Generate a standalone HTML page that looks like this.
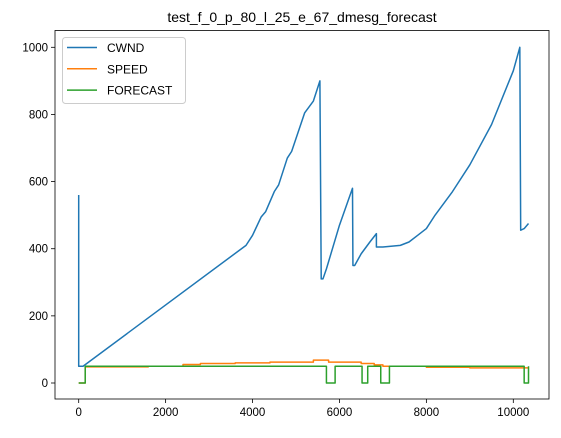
<!DOCTYPE html>
<html><head><meta charset="utf-8"><style>
body{margin:0;background:#fff;font-family:"Liberation Sans","DejaVu Sans",sans-serif}
</style></head><body>
<svg id="c" width="561" height="433" xmlns="http://www.w3.org/2000/svg"></svg>
<script>
const cwndX=[0,0,100,3850,4000,4200,4300,4500,4600,4800,4900,5200,5400,5550,5580,5620,5700,6000,6300,6310,6350,6500,6700,6850,6850,7000,7400,7600,7800,8000,8200,8600,9000,9500,10000,10150,10170,10250,10350];
const cwndY=[560,50,50,410,440,495,510,570,590,670,690,805,840,900,310,310,340,470,580,350,350,385,420,445,405,405,410,420,440,460,500,570,650,770,930,1000,455,460,475];
const speedX=[0,150,150,1600,1600,2400,2400,2800,2800,3600,3600,4400,4400,5400,5400,5750,5750,6500,6500,6800,6800,7000,7000,8000,8000,9000,9000,10350];
const speedY=[0,0,48,48,50,50,55,55,58,58,60,60,62,62,68,68,62,62,58,58,54,54,50,50,47,47,45,45];
const fcX=[0,150,150,5700,5700,5900,5900,6520,6520,6650,6650,6950,6950,7150,7150,10250,10250,10350,10350];
const fcY=[0,0,50,50,0,0,50,50,0,0,50,50,0,0,50,50,0,0,50];
const xTicks=[0,2000,4000,6000,8000,10000];
const yTicks=[0,200,400,600,800,1000];
const L=55,R=549,T=30.5,B=399;
const sx=v=>78.7+v*0.04346;
const sy=v=>383-v*0.3357;
const svg=document.getElementById('c');const NS='http://www.w3.org/2000/svg';
function mk(t,a,p){const e=document.createElementNS(NS,t);for(const k in a)e.setAttribute(k,a[k]);(p||svg).appendChild(e);return e;}
let t=mk('text',{x:(L+R)/2,y:22,'text-anchor':'middle','font-size':'14',fill:'#000'});t.textContent='test_f_0_p_80_l_25_e_67_dmesg_forecast';


xTicks.forEach(v=>{const x=sx(v);
 const l=mk('line',{x1:x,x2:x,y1:B,y2:B+4,stroke:'#000','stroke-width':0.8});
 
 
 const s=mk('text',{x:x,y:B+17,'text-anchor':'middle','font-size':'11.5'});s.textContent=v;
 
 });
yTicks.forEach(v=>{const y=sy(v);
 const l=mk('line',{x1:L-4,x2:L,y1:y,y2:y,stroke:'#000','stroke-width':0.8});
 
 
 const s=mk('text',{x:L-7,y:y+4,'text-anchor':'end','font-size':'11.5'});s.textContent=v;
 
 });
function line(X,Y,c,n){const p=mk('polyline',{points:X.map((x,i)=>sx(x)+','+sy(Y[i])).join(' '),fill:'none',stroke:c,'stroke-width':1.5,'stroke-linejoin':'round'});
 
 }
line(cwndX,cwndY,'#1f77b4','cwnd-line');
line(speedX,speedY,'#ff7f0e','speed-line');
line(fcX,fcY,'#2ca02c','forecast-line');
const f=mk('rect',{x:L,y:T,width:R-L,height:B-T,fill:'none',stroke:'#000','stroke-width':0.8});


const g=mk('g',{});


mk('rect',{x:62.5,y:37.5,width:123,height:66,rx:3,fill:'#fff','fill-opacity':0.8,stroke:'#ccc'},g);
[['CWND','#1f77b4'],['SPEED','#ff7f0e'],['FORECAST','#2ca02c']].forEach((d,i)=>{const y=47.5+i*21.3;
 mk('line',{x1:67,x2:97,y1:y,y2:y,stroke:d[1],'stroke-width':1.5},g);
 const s=mk('text',{x:107,y:y+4.5,'font-size':'12'},g);s.textContent=d[0];
 
 });
</script>
</body></html>
